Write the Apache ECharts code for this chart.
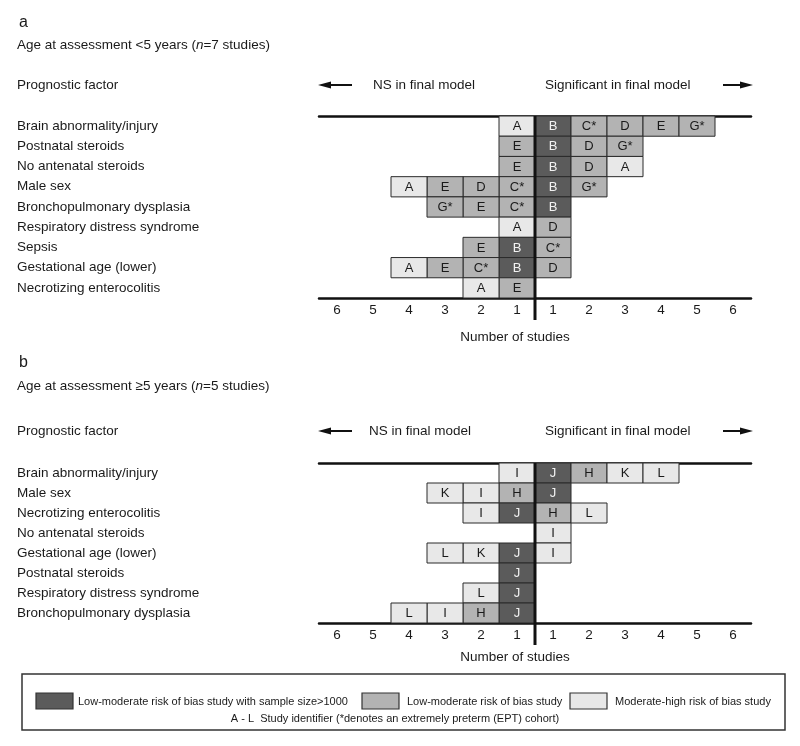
<!DOCTYPE html>
<html>
<head>
<meta charset="utf-8">
<script src="https://cdn.jsdelivr.net/npm/echarts@6/dist/echarts.min.js"></script>
<style>
  html, body { margin: 0; padding: 0; background: #fff; }
  #chart { width: 800px; height: 746px; }
</style>
</head>
<body>
<div id="chart"></div>
<script>
// risk of bias group of each study
const studyRisk = {
  A: 'high', B: 'large', C: 'low', D: 'low', E: 'low', G: 'low',
  H: 'low', I: 'high', J: 'large', K: 'high', L: 'high'
}
const riskColors = { large: '#5b5b5b', low: '#b3b3b3', high: '#e8e8e8' }

// panel a: age at assessment <5 years
const factorsA = [
  'Brain abnormality/injury', 'Postnatal steroids', 'No antenatal steroids', 'Male sex',
  'Bronchopulmonary dysplasia', 'Respiratory distress syndrome', 'Sepsis',
  'Gestational age (lower)', 'Necrotizing enterocolitis'
]
// studies listed from the centre line outwards
const nsA = [['A'], ['E'], ['E'], ['C*', 'D', 'E', 'A'], ['C*', 'E', 'G*'], ['A'], ['B', 'E'], ['B', 'C*', 'E', 'A'], ['E', 'A']]
const sigA = [['B', 'C*', 'D', 'E', 'G*'], ['B', 'D', 'G*'], ['B', 'D', 'A'], ['B', 'G*'], ['B'], ['D'], ['C*'], ['D'], []]

// panel b: age at assessment >=5 years
const factorsB = [
  'Brain abnormality/injury', 'Male sex', 'Necrotizing enterocolitis', 'No antenatal steroids',
  'Gestational age (lower)', 'Postnatal steroids', 'Respiratory distress syndrome',
  'Bronchopulmonary dysplasia'
]
const nsB = [['I'], ['H', 'I', 'K'], ['J', 'I'], [], ['J', 'K', 'L'], ['J'], ['J', 'L'], ['J', 'H', 'I', 'L']]
const sigB = [['J', 'H', 'K', 'L'], ['J'], ['H', 'L'], ['I'], ['I'], [], [], []]

const FONT = 'Liberation Sans, Arial, Helvetica, sans-serif'

function buildCells (ns, sig) {
  const cells = []
  ns.forEach((row, r) => row.forEach((s, i) => cells.push({ pos: -(i + 1), row: r, label: s })))
  sig.forEach((row, r) => row.forEach((s, i) => cells.push({ pos: i + 1, row: r, label: s })))
  return cells
}

function cellSeries (cells, axisIdx) {
  return {
    type: 'custom',
    xAxisIndex: axisIdx * 2,
    yAxisIndex: axisIdx,
    data: cells.map(c => [c.pos, c.row]),
    renderItem: (params, api) => {
      const c = cells[params.dataIndex]
      const k = api.value(0)
      const x0 = k > 0 ? k - 1 : k
      const p0 = api.coord([x0, api.value(1)])
      const p1 = api.coord([x0 + 1, api.value(1)])
      const h = api.size([0, 1])[1]
      const risk = studyRisk[c.label[0]]
      return {
        type: 'group',
        children: [
          {
            type: 'rect',
            shape: { x: p0[0], y: p0[1] - h / 2, width: p1[0] - p0[0], height: h },
            style: { fill: riskColors[risk], stroke: '#2b2b2b', lineWidth: 1 }
          },
          {
            type: 'text',
            style: {
              x: (p0[0] + p1[0]) / 2, y: p0[1] + 0.5, text: c.label,
              align: 'center', verticalAlign: 'middle',
              fontFamily: FONT, fontSize: 13,
              fill: risk === 'large' ? '#f2f2f2' : '#1a1a1a'
            }
          }
        ]
      }
    }
  }
}

function dividerSeries (axisIdx) {
  return {
    type: 'custom',
    xAxisIndex: axisIdx * 2,
    yAxisIndex: axisIdx,
    data: [[0, 0]],
    z: 5,
    renderItem: (params, api) => {
      const cs = params.coordSys
      const x = api.coord([0, 0])[0]
      return {
        type: 'line',
        shape: { x1: x, y1: cs.y, x2: x, y2: cs.y + cs.height + 22 },
        style: { stroke: '#111', lineWidth: 3 }
      }
    }
  }
}

function bottomAxis (gridIndex) {
  return {
    type: 'value', gridIndex, min: -6, max: 6, interval: 0.5,
    axisLine: { show: true, onZero: false, lineStyle: { color: '#111', width: 2.5 } },
    axisTick: { show: false },
    splitLine: { show: false },
    axisLabel: {
      margin: 5, color: '#1a1a1a', fontFamily: FONT, fontSize: 13.5,
      formatter: v => Math.abs(v % 1) === 0.5 ? String(Math.ceil(Math.abs(v))) : ''
    }
  }
}

function topAxis (gridIndex) {
  return {
    type: 'value', gridIndex, position: 'top', min: -6, max: 6,
    axisLine: { show: true, onZero: false, lineStyle: { color: '#111', width: 2.5 } },
    axisTick: { show: false },
    splitLine: { show: false },
    axisLabel: { show: false }
  }
}

function factorAxis (gridIndex, factors) {
  return {
    type: 'category', gridIndex, data: factors, inverse: true,
    axisLine: { show: false },
    axisTick: { show: false },
    splitLine: { show: false },
    axisLabel: { align: 'left', margin: 302, color: '#1a1a1a', fontFamily: FONT, fontSize: 13.5 }
  }
}

function txt (x, y, text, extra) {
  return {
    type: 'text', x, y,
    style: Object.assign({
      text, fontFamily: FONT, fontSize: 13.5, fill: '#1a1a1a', verticalAlign: 'middle',
      rich: { i: { fontStyle: 'italic', fontFamily: FONT, fontSize: 13.5, fill: '#1a1a1a' } }
    }, extra || {})
  }
}

function arrow (xTip, xTail, y) {
  const dir = xTail > xTip ? 1 : -1
  return [
    { type: 'line', shape: { x1: xTip + dir * 10, y1: y, x2: xTail, y2: y }, style: { stroke: '#111', lineWidth: 2 } },
    { type: 'polygon', shape: { points: [[xTip, y], [xTip + dir * 13, y - 3.5], [xTip + dir * 13, y + 3.5]] }, style: { fill: '#111' } }
  ]
}

function swatch (x, color) {
  return { type: 'rect', shape: { x, y: 693, width: 37, height: 16 }, style: { fill: color, stroke: '#333', lineWidth: 1.2 } }
}

const chart = echarts.init(document.getElementById('chart'))

chart.setOption({
  backgroundColor: '#fff',
  animation: false,
  grid: [
    { left: 319, width: 432, top: 116, height: 182 },
    { left: 319, width: 432, top: 463, height: 160 }
  ],
  xAxis: [bottomAxis(0), topAxis(0), bottomAxis(1), topAxis(1)],
  yAxis: [factorAxis(0, factorsA), factorAxis(1, factorsB)],
  series: [
    cellSeries(buildCells(nsA, sigA), 0),
    dividerSeries(0),
    cellSeries(buildCells(nsB, sigB), 1),
    dividerSeries(1)
  ],
  graphic: [
    txt(19, 23, 'a', { fontSize: 16 }),
    txt(17, 45, 'Age at assessment <5 years ({i|n}=7 studies)'),
    txt(17, 85, 'Prognostic factor'),
    ...arrow(318, 352, 85),
    txt(373, 85, 'NS in final model'),
    txt(545, 85, 'Significant in final model'),
    ...arrow(753, 723, 85),
    txt(515, 337, 'Number of studies', { align: 'center' }),

    txt(19, 363, 'b', { fontSize: 16 }),
    txt(17, 386, 'Age at assessment \u22655 years ({i|n}=5 studies)'),
    txt(17, 431, 'Prognostic factor'),
    ...arrow(318, 352, 431),
    txt(369, 431, 'NS in final model'),
    txt(545, 431, 'Significant in final model'),
    ...arrow(753, 723, 431),
    txt(515, 657, 'Number of studies', { align: 'center' }),

    { type: 'rect', shape: { x: 22, y: 674, width: 763, height: 56 }, style: { fill: 'none', stroke: '#333', lineWidth: 1.5 } },
    swatch(36, riskColors.large),
    txt(78, 702, 'Low-moderate risk of bias study with sample size>1000', { fontSize: 11 }),
    swatch(362, riskColors.low),
    txt(407, 702, 'Low-moderate risk of bias study', { fontSize: 11 }),
    swatch(570, riskColors.high),
    txt(615, 702, 'Moderate-high risk of bias study', { fontSize: 11 }),
    txt(395, 719, 'A - L  Study identifier (*denotes an extremely preterm (EPT) cohort)', { fontSize: 11, align: 'center' })
  ]
})
</script>
</body>
</html>
